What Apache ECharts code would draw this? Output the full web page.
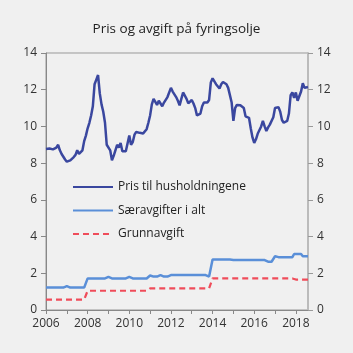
<!DOCTYPE html>
<html>
<head>
<meta charset="utf-8">
<script src="https://cdn.jsdelivr.net/npm/echarts@6/dist/echarts.min.js"></script>
<style>
html, body { margin: 0; padding: 0; background: #f0f0f0; }
#chart { width: 353px; height: 353px; }
</style>
</head>
<body>
<div id="chart"></div>
<script>
// monthly values, Jan 2006 - Aug 2018 (kr per liter)
var startYear = 2006;
var yearTicks = [2006, 2008, 2010, 2012, 2014, 2016, 2018];

var pris = [
  8.77, 8.72, 8.80, 8.84, 8.75, 8.76, 8.85, 9.00, 8.70, 8.50, 8.35, 8.20,
  8.08, 8.04, 8.15, 8.22, 8.33, 8.45, 8.70, 8.50, 8.55, 8.70, 9.20, 9.50,
  9.90, 10.2, 10.6, 11.1, 12.3, 12.55, 12.8, 11.8, 11.2, 10.8, 10.2, 9.00,
  9.00, 8.70, 8.15, 8.40, 8.70, 9.00, 8.85, 9.10, 8.65, 8.70, 8.65, 8.75,
  9.50, 9.00, 9.15, 9.55, 9.70, 9.74, 9.65, 9.60, 9.62, 9.68, 9.85, 10.2,
  10.6, 11.2, 11.5, 11.55, 11.17, 11.4, 11.35, 11.1, 11.3, 11.45, 11.6, 11.55,
  12.1, 11.9, 11.95, 11.6, 11.4, 11.15, 11.5, 11.85, 11.8, 11.5, 11.26, 11.35,
  11.44, 11.25, 11.0, 10.6, 10.5, 10.7, 11.1, 11.3, 11.3, 11.3, 11.44, 12.4,
  12.62, 12.6, 12.3, 12.25, 12.07, 12.3, 12.42, 12.35, 12.3, 12.1, 12.1, 11.3,
  10.3, 11.0, 11.17, 11.1, 11.15, 11.2, 11.0, 10.55, 10.5, 10.47, 9.9, 9.4,
  9.1, 9.3, 9.6, 9.6, 10.0, 10.3, 10.0, 9.75, 9.95, 10.1, 10.1, 10.5,
  11.0, 11.1, 11.05, 10.8, 10.35, 10.2, 10.15, 10.3, 10.7, 11.7, 11.85, 11.55,
  11.85, 11.4, 11.4, 11.9, 12.35, 12.1, 12.2, 12.15
];

var saeravgifter = [
  1.22, 1.22, 1.22, 1.22, 1.22, 1.22, 1.22, 1.22, 1.22, 1.22, 1.22, 1.22,
  1.30, 1.22, 1.22, 1.22, 1.22, 1.22, 1.22, 1.22, 1.22, 1.22, 1.22, 1.22,
  1.72, 1.72, 1.72, 1.72, 1.72, 1.72, 1.72, 1.72, 1.72, 1.72, 1.72, 1.72,
  1.80, 1.72, 1.72, 1.72, 1.72, 1.72, 1.72, 1.72, 1.72, 1.72, 1.72, 1.72,
  1.80, 1.72, 1.72, 1.72, 1.72, 1.72, 1.72, 1.72, 1.72, 1.72, 1.72, 1.72,
  1.88, 1.82, 1.82, 1.82, 1.82, 1.82, 1.90, 1.82, 1.82, 1.82, 1.82, 1.82,
  1.90, 1.90, 1.90, 1.90, 1.90, 1.90, 1.90, 1.90, 1.90, 1.90, 1.90, 1.90,
  1.90, 1.90, 1.90, 1.90, 1.90, 1.90, 1.90, 1.90, 1.90, 1.90, 1.82, 1.82,
  2.75, 2.75, 2.75, 2.75, 2.75, 2.75, 2.75, 2.75, 2.75, 2.75, 2.75, 2.80,
  2.73, 2.73, 2.73, 2.73, 2.73, 2.73, 2.73, 2.73, 2.73, 2.73, 2.73, 2.73,
  2.73, 2.73, 2.73, 2.73, 2.73, 2.73, 2.72, 2.62, 2.63, 2.63, 2.63, 2.63,
  2.93, 2.88, 2.88, 2.88, 2.88, 2.88, 2.88, 2.88, 2.88, 2.88, 2.88, 3.05,
  3.05, 3.05, 3.05, 3.05, 2.93, 2.93, 2.93, 2.93
];

var grunnavgift = [
  0.57, 0.57, 0.57, 0.57, 0.57, 0.57, 0.57, 0.57, 0.57, 0.57, 0.57, 0.57,
  0.57, 0.57, 0.57, 0.57, 0.57, 0.57, 0.57, 0.57, 0.57, 0.57, 0.57, 0.57,
  1.05, 1.05, 1.05, 1.05, 1.05, 1.05, 1.05, 1.05, 1.05, 1.05, 1.05, 1.05,
  1.05, 1.05, 1.05, 1.05, 1.05, 1.05, 1.05, 1.05, 1.05, 1.05, 1.05, 1.05,
  1.05, 1.05, 1.05, 1.05, 1.05, 1.05, 1.05, 1.05, 1.05, 1.05, 1.05, 1.05,
  1.18, 1.18, 1.18, 1.18, 1.18, 1.18, 1.18, 1.18, 1.18, 1.18, 1.18, 1.18,
  1.18, 1.18, 1.18, 1.18, 1.18, 1.18, 1.18, 1.18, 1.18, 1.18, 1.18, 1.18,
  1.18, 1.18, 1.18, 1.18, 1.18, 1.18, 1.18, 1.18, 1.18, 1.18, 1.18, 1.18,
  1.72, 1.72, 1.72, 1.72, 1.72, 1.72, 1.72, 1.72, 1.72, 1.72, 1.72, 1.72,
  1.72, 1.72, 1.72, 1.72, 1.72, 1.72, 1.72, 1.72, 1.72, 1.72, 1.72, 1.72,
  1.72, 1.72, 1.72, 1.72, 1.72, 1.72, 1.72, 1.72, 1.72, 1.72, 1.72, 1.72,
  1.72, 1.72, 1.72, 1.72, 1.72, 1.72, 1.72, 1.72, 1.72, 1.72, 1.72, 1.72,
  1.66, 1.66, 1.66, 1.66, 1.66, 1.66, 1.66, 1.66
];

// pair each monthly value with its fractional year
function withTime(arr) {
    return arr.map(function (v, i) { return [startYear + i / 12, v]; });
}

var lastX = startYear + (pris.length - 1) / 12;
var font = 'Open Sans';

var myChart = echarts.init(document.getElementById('chart'));
var option = {
    backgroundColor: '#f0f0f0',
    animation: false,
    title: {
        text: 'Pris og avgift på fyringsolje',
        left: 'center',
        top: 17,
        textStyle: { color: '#222', fontSize: 13.5, fontWeight: 'normal', fontFamily: font }
    },
    legend: {
        orient: 'vertical',
        left: 72,
        top: 181,
        padding: 0,
        itemWidth: 40,
        itemHeight: 14,
        itemGap: 11.5,
        itemStyle: { opacity: 0 },
        textStyle: { color: '#222', fontSize: 12, fontFamily: font },
        data: ['Pris til husholdningene', 'Særavgifter i alt', 'Grunnavgift']
    },
    grid: {
        left: 46, right: 45, top: 53, bottom: 43,
        show: true,
        borderColor: '#999',
        borderWidth: 1,
        backgroundColor: 'transparent'
    },
    xAxis: {
        type: 'value',
        min: startYear,
        max: lastX,
        interval: 1,
        axisLine: { lineStyle: { color: '#888', width: 1 } },
        axisTick: { show: true, length: 4, lineStyle: { color: '#888' } },
        axisLabel: {
            color: '#333', fontSize: 12, fontFamily: font, margin: 8,
            showMaxLabel: false,
            formatter: function (v) {
                return yearTicks.indexOf(v) >= 0 ? String(v) : '';
            }
        },
        splitLine: { show: false }
    },
    yAxis: [{
        type: 'value', min: 0, max: 14, interval: 2, position: 'left',
        axisLine: { show: true, lineStyle: { color: '#888', width: 1 } },
        axisTick: { show: true, length: 5, lineStyle: { color: '#888' } },
        axisLabel: { color: '#333', fontSize: 12, fontFamily: font, margin: 9 },
        splitLine: { show: false }
    }, {
        type: 'value', min: 0, max: 14, interval: 2, position: 'right',
        axisLine: { show: true, lineStyle: { color: '#bbb', width: 2 } },
        axisTick: { show: true, length: 5, lineStyle: { color: '#999' } },
        axisLabel: { color: '#333', fontSize: 12, fontFamily: font, margin: 9 },
        splitLine: { show: false }
    }],
    series: [{
        name: 'Pris til husholdningene',
        type: 'line',
        showSymbol: false,
        symbol: 'none',
        lineStyle: { color: '#3a479f', width: 2.5 },
        itemStyle: { color: '#3a479f' },
        data: withTime(pris)
    }, {
        name: 'Særavgifter i alt',
        type: 'line',
        showSymbol: false,
        symbol: 'none',
        lineStyle: { color: '#5a8fd8', width: 2.5 },
        itemStyle: { color: '#5a8fd8' },
        data: withTime(saeravgifter)
    }, {
        name: 'Grunnavgift',
        type: 'line',
        showSymbol: false,
        symbol: 'none',
        lineStyle: { color: '#ef4c5a', width: 2.2, type: [6, 4] },
        itemStyle: { color: '#ef4c5a' },
        data: withTime(grunnavgift)
    }]
};
myChart.setOption(option);
</script>
</body>
</html>
